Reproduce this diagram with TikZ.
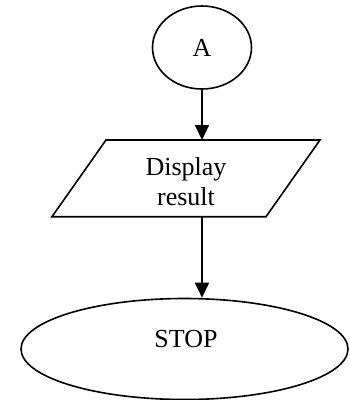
\documentclass[tikz,border=0pt]{standalone}
\usepackage{fontspec}
\setmainfont{Liberation Serif}
\usetikzlibrary{shapes.geometric,arrows.meta}
\begin{document}
\begin{tikzpicture}[x=1pt,y=-1pt,
  shape line/.style={draw=black,line width=1.6pt},
  conn/.style={line width=1.8pt,-{Triangle[length=15pt,width=14pt]}},
  lbl/.style={font=\fontsize{26}{30}\selectfont,align=center,inner sep=0pt}]
\useasboundingbox (0,0) rectangle (349,400);
\node[shape line,ellipse,minimum width=99pt,minimum height=83pt,inner sep=0pt,lbl] (A) at (202,47.5) {A};
\coordinate (p1) at (106,140);
\coordinate (p2) at (320,140);
\coordinate (p3) at (266,216.7);
\coordinate (p4) at (52,216.7);
\draw[shape line] (p1) -- (p2) -- (p3) -- (p4) -- cycle;
\node[lbl] (disp) at (186,182) {Display\\result};
\coordinate (ptop) at (202,140);
\coordinate (pbot) at (202,216.7);
\node[shape line,ellipse,minimum width=327pt,minimum height=101pt,inner sep=0pt] (stop) at (184.5,349) {};
\node[lbl] (stoptxt) at (186,339) {STOP};
\draw[conn] (A.south) -- (ptop);
\draw[conn] (pbot) -- (pbot |- stop.north);
\end{tikzpicture}
\end{document}
